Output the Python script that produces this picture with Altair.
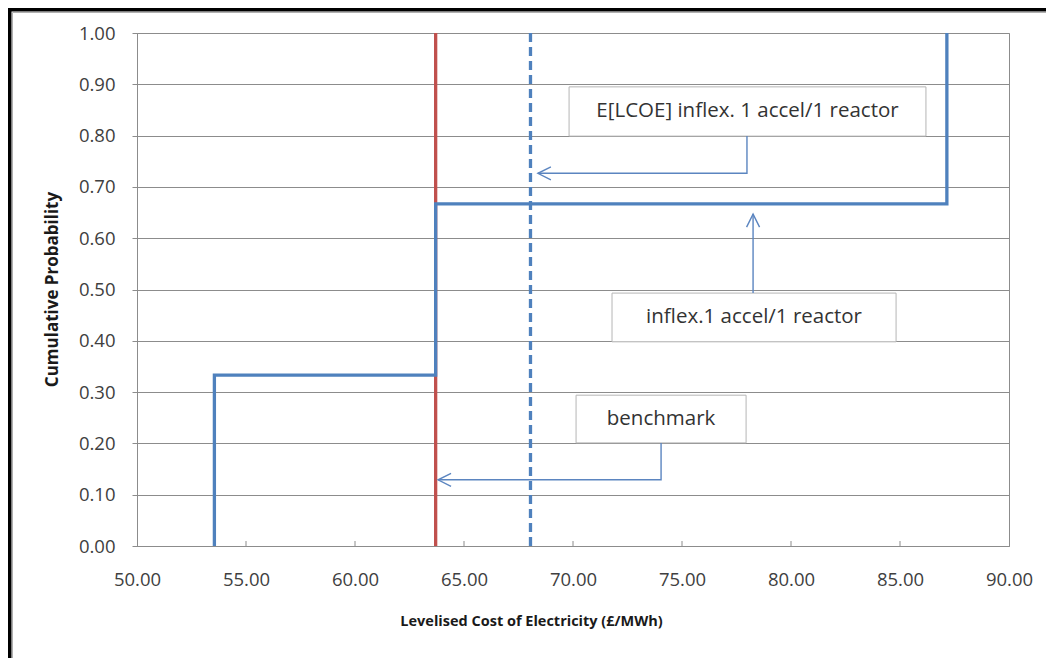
import altair as alt
import pandas as pd

# ---- data ----
x_ticks = [50, 55, 60, 65, 70, 75, 80, 85, 90]
inner_ticks = [55, 60, 65, 70, 75, 80, 85]
y_ticks = [0.0, 0.1, 0.2, 0.3, 0.4, 0.5, 0.6, 0.7, 0.8, 0.9, 1.0]

step_x = [53.55, 53.55, 63.70, 63.70, 87.15, 87.15]
step_y = [0.0, 0.333, 0.333, 0.667, 0.667, 1.0]

benchmark_lcoe = 63.70
expected_lcoe = 68.05

box_labels = ["E[LCOE] inflex. 1 accel/1 reactor", "inflex.1 accel/1 reactor", "benchmark"]
box_x1 = [69.82, 71.79, 70.14]
box_x2 = [86.19, 84.82, 77.94]
box_y1 = [0.799, 0.398, 0.201]
box_y2 = [0.895, 0.493, 0.294]

# connectors (polyline vertices)
conn_id = [1, 1, 1, 2, 2, 3, 3, 3]
conn_x = [77.98, 77.98, 68.39, 78.26, 78.26, 74.04, 74.04, 63.81]
conn_y = [0.799, 0.7265, 0.7265, 0.493, 0.647, 0.201, 0.129, 0.129]

# arrow tips
left_tip_x = [68.39, 63.81]
left_tip_y = [0.7265, 0.129]
up_tip_x = [78.26]
up_tip_y = [0.647]

BLUE = "#4F81BD"
RED = "#C0504D"
GRID = "#8c8c8c"
CONN = "#5b85c0"

W, H = 872, 513

xs = alt.Scale(domain=[50, 90], nice=False, zero=False)
ys = alt.Scale(domain=[0, 1], nice=False)

step_df = pd.DataFrame({"x": step_x, "y": step_y, "o": list(range(len(step_x)))})
vline_df = pd.DataFrame({"x": [benchmark_lcoe], "y": [0.0], "y2": [1.0]})
exp_df = pd.DataFrame({"x": [expected_lcoe], "y": [0.0], "y2": [1.0]})
box_df = pd.DataFrame({"label": box_labels, "x1": box_x1, "x2": box_x2, "y1": box_y1, "y2": box_y2})
box_df["xc"] = (box_df.x1 + box_df.x2) / 2
box_df["yc"] = (box_df.y1 + box_df.y2) / 2
conn_df = pd.DataFrame({"id": conn_id, "x": conn_x, "y": conn_y, "o": list(range(len(conn_x)))})
left_df = pd.DataFrame({"x": left_tip_x, "y": left_tip_y})
up_df = pd.DataFrame({"x": up_tip_x, "y": up_tip_y})
tick_df = pd.DataFrame({"x": inner_ticks})
dummy = pd.DataFrame({"a": [0]})

base_axes = alt.Chart(pd.DataFrame({"x": [50.0, 90.0], "y": [0.0, 1.0]})).mark_point(opacity=0).encode(
    x=alt.X("x:Q", scale=xs,
            axis=alt.Axis(values=x_ticks, format=".2f", title="Levelised Cost of Electricity (£/MWh)",
                          grid=False, ticks=False, labelPadding=24, labelFontSize=18.5,
                          labelFlush=False, labelOverlap=False,
                          labelColor="#404040", domainColor=GRID, titleFontSize=14.5,
                          titleFontWeight="bold", titleColor="#1a1a1a", titleX=394, titleY=75,
                          titleBaseline="middle", titleAnchor="start", titleAlign="center")),
    y=alt.Y("y:Q", scale=ys,
            axis=alt.Axis(values=y_ticks, format=".2f", title="Cumulative Probability",
                          grid=True, gridColor=GRID, gridWidth=1, tickSize=5, tickColor=GRID,
                          labelPadding=17, labelFontSize=18.5, labelColor="#404040",
                          labelFlush=False, labelOverlap=False,
                          domainColor=GRID, titleFontSize=17, titleFontWeight="bold",
                          titleColor="#1a1a1a", titleX=-85, titleY=256, titleAngle=270,
                          titleBaseline="middle", titleAlign="center")),
)

ticks = alt.Chart(tick_df).mark_rule(color=GRID, strokeWidth=1).encode(
    x=alt.X("x:Q", scale=xs), y=alt.value(H - 5), y2=alt.value(H))

red = alt.Chart(vline_df).mark_rule(color=RED, strokeWidth=3.3).encode(
    x=alt.X("x:Q", scale=xs), y=alt.Y("y:Q", scale=ys), y2="y2:Q")

dashed = alt.Chart(exp_df).mark_rule(color=BLUE, strokeWidth=3.3, strokeDash=[9, 5]).encode(
    x=alt.X("x:Q", scale=xs), y=alt.Y("y:Q", scale=ys), y2="y2:Q")

step = alt.Chart(step_df).mark_line(color=BLUE, strokeWidth=3.3, strokeJoin="miter").encode(
    x=alt.X("x:Q", scale=xs), y=alt.Y("y:Q", scale=ys), order="o:Q")

boxes = alt.Chart(box_df).mark_rect(fill="white", stroke="#b5b5b5", strokeWidth=1).encode(
    x=alt.X("x1:Q", scale=xs), x2="x2:Q", y=alt.Y("y1:Q", scale=ys), y2="y2:Q")

texts = alt.Chart(box_df).mark_text(font="Open Sans", fontSize=20.5, color="#333333",
                                    baseline="middle", align="center").encode(
    x=alt.X("xc:Q", scale=xs), y=alt.Y("yc:Q", scale=ys), text="label:N")

conns = alt.Chart(conn_df).mark_line(color=CONN, strokeWidth=1.4).encode(
    x=alt.X("x:Q", scale=xs), y=alt.Y("y:Q", scale=ys), detail="id:N", order="o:Q")

left_heads = alt.Chart(left_df).mark_point(shape="M1,-0.5L0,0L1,0.5", size=676, filled=False,
                                           color=CONN, strokeWidth=1.4, opacity=1).encode(
    x=alt.X("x:Q", scale=xs), y=alt.Y("y:Q", scale=ys))

up_heads = alt.Chart(up_df).mark_point(shape="M-0.5,1L0,0L0.5,1", size=676, filled=False,
                                       color=CONN, strokeWidth=1.4, opacity=1).encode(
    x=alt.X("x:Q", scale=xs), y=alt.Y("y:Q", scale=ys))

frame_left = alt.Chart(dummy).mark_rule(color="black", strokeWidth=5).encode(
    x=alt.value(-128), y=alt.value(-26), y2=alt.value(640))
frame_top = alt.Chart(dummy).mark_rule(color="black", strokeWidth=5).encode(
    x=alt.value(-130), x2=alt.value(920), y=alt.value(-24))
frame_left2 = alt.Chart(dummy).mark_rule(color="#b0b0b0", strokeWidth=1).encode(
    x=alt.value(-124.5), y=alt.value(-20.5), y2=alt.value(640))
frame_top2 = alt.Chart(dummy).mark_rule(color="#b0b0b0", strokeWidth=1).encode(
    x=alt.value(-124.5), x2=alt.value(920), y=alt.value(-20.5))

chart = alt.layer(
    base_axes, ticks, red, dashed, step, boxes, conns, left_heads, up_heads, texts,
    frame_left, frame_top, frame_left2, frame_top2
).properties(
    width=W, height=H,
    autosize=alt.AutoSizeParams(type="none"),
    padding={"left": 129, "top": 25, "right": 37, "bottom": 112},
).configure(font="Open Sans").configure_view(stroke=GRID, strokeWidth=1)

chart.save("out.html", embed_options={"renderer": "svg", "actions": False})
